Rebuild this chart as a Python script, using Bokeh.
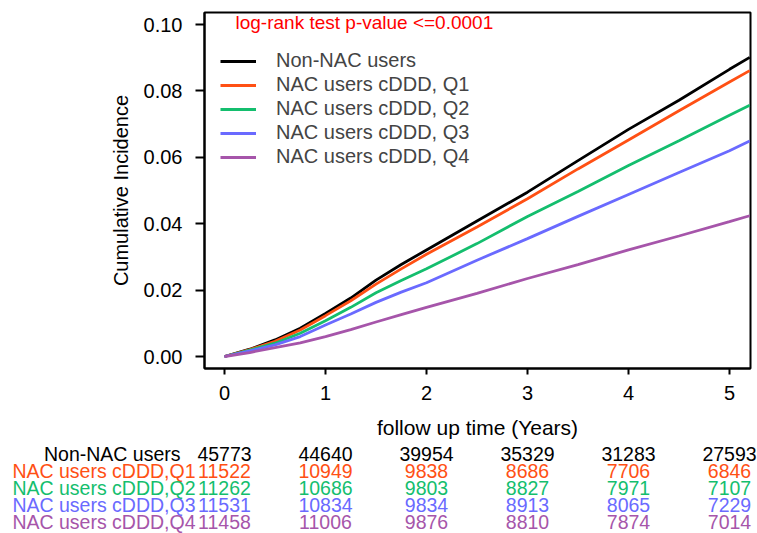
from bokeh.plotting import figure
from bokeh.models import Range1d, FixedTicker, Label, Legend, LegendItem, NumeralTickFormatter
from bokeh.layouts import column
from bokeh.embed import file_html
from bokeh.resources import INLINE
from bokeh.core.properties import value

# ---------------- data ----------------
times = [0, 0.25, 0.5, 0.75, 1.0, 1.25, 1.5, 1.75, 2.0, 2.5, 3.0, 3.5, 4.0, 4.5, 5.0, 5.2]
ci_non_nac = [0, 0.0022, 0.0050, 0.0085, 0.0130, 0.0176, 0.0230, 0.0277, 0.0321, 0.0408, 0.0495, 0.0590, 0.0684, 0.0772, 0.0865, 0.0901]
ci_q1 = [0, 0.0021, 0.0046, 0.0080, 0.0123, 0.0168, 0.0218, 0.0264, 0.0308, 0.0390, 0.0475, 0.0565, 0.0652, 0.0740, 0.0827, 0.0861]
ci_q2 = [0, 0.0019, 0.0040, 0.0070, 0.0108, 0.0148, 0.0192, 0.0229, 0.0264, 0.0340, 0.0422, 0.0497, 0.0575, 0.0650, 0.0727, 0.0757]
ci_q3 = [0, 0.0017, 0.0035, 0.0060, 0.0095, 0.0128, 0.0163, 0.0194, 0.0222, 0.0290, 0.0355, 0.0422, 0.0488, 0.0554, 0.0620, 0.0649]
ci_q4 = [0, 0.0012, 0.0027, 0.0041, 0.0060, 0.0081, 0.0104, 0.0126, 0.0148, 0.0190, 0.0235, 0.0277, 0.0321, 0.0363, 0.0406, 0.0424]

legend_labels = ["Non-NAC users", "NAC users cDDD, Q1", "NAC users cDDD, Q2",
                 "NAC users cDDD, Q3", "NAC users cDDD, Q4"]
table_labels = ["Non-NAC users", "NAC users cDDD,Q1", "NAC users cDDD,Q2",
                "NAC users cDDD,Q3", "NAC users cDDD,Q4"]
colors = ["#000000", "#FF5014", "#14BE6E", "#6A6AFF", "#A655AA"]

risk_times = [0, 1, 2, 3, 4, 5]
risk_non_nac = [45773, 44640, 39954, 35329, 31283, 27593]
risk_q1 = [11522, 10949, 9838, 8686, 7706, 6846]
risk_q2 = [11262, 10686, 9803, 8827, 7971, 7107]
risk_q3 = [11531, 10834, 9834, 8913, 8065, 7229]
risk_q4 = [11458, 11006, 9876, 8810, 7874, 7014]

x_ticks = [0, 1, 2, 3, 4, 5]
y_ticks = [0.0, 0.02, 0.04, 0.06, 0.08, 0.10]
pvalue_text = "log-rank test p-value <=0.0001"
x_title = "follow up time (Years)"
y_title = "Cumulative Incidence"

FONT = "Liberation Sans"

# ---------------- layout constants (pixels) ----------------
PX_X = 101.0      # pixels per year
PX_Y = 3320.0     # pixels per unit of incidence
X0 = 224.0        # page x of t = 0
Y0 = 356.0        # page y of incidence 0
FL, FR, FT, FB = 204, 750, 12, 368   # frame edges
W = 757
H1 = 412          # main plot height (frame + tick labels)
H2 = 533 - H1     # x title + risk table


def dx(px):
    return (px - X0) / PX_X


def dy(py):
    return (Y0 - py) / PX_Y


p = figure(width=W, height=H1, output_backend="svg", toolbar_location=None,
           x_range=Range1d(dx(FL), dx(FR)), y_range=Range1d(dy(FB), dy(FT)),
           min_border_left=FL, min_border_right=W - FR, min_border_top=FT,
           min_border_bottom=H1 - FB)
p.grid.visible = False
p.outline_line_color = "black"
p.outline_line_width = 2
p.background_fill_color = "white"
p.border_fill_color = "white"

series = [ci_non_nac, ci_q1, ci_q2, ci_q3, ci_q4]
renderers = []
for vals, col in zip(series, colors):
    renderers.append(p.line(times, vals, line_color=col, line_width=2.8))

for ax in (p.xaxis[0], p.yaxis[0]):
    ax.axis_line_color = "black"
    ax.axis_line_width = 2
    ax.major_tick_line_width = 2
    ax.major_tick_in = 0
    ax.minor_tick_line_color = None
    ax.major_label_text_font = FONT
    ax.major_label_text_font_size = "20px"
    ax.major_label_text_color = "black"
    ax.axis_label_text_font = FONT
    ax.axis_label_text_font_style = "normal"
    ax.axis_label_text_color = "black"

p.xaxis.ticker = FixedTicker(ticks=x_ticks)
p.xaxis.major_tick_out = 6
p.xaxis.major_label_standoff = 11

p.yaxis.ticker = FixedTicker(ticks=y_ticks)
p.yaxis.formatter = NumeralTickFormatter(format="0.00")
p.yaxis.major_tick_out = 9
p.yaxis.major_label_standoff = 13
p.yaxis.axis_label = y_title
p.yaxis.axis_label_text_font_size = "20px"
p.yaxis.axis_label_standoff = 9

legend = Legend(items=[LegendItem(label=lab, renderers=[r]) for lab, r in zip(legend_labels, renderers)],
                location=(16, 200), padding=0, margin=0, spacing=1,
                glyph_width=36, glyph_height=20, label_height=20, label_standoff=20,
                label_text_font=FONT, label_text_font_size="20px",
                border_line_color=None, background_fill_alpha=0)
p.add_layout(legend)

p.add_layout(Label(x=dx(235), y=dy(22), text=pvalue_text, text_color="#FF0000",
                   text_font=FONT, text_font_size="19px",
                   text_align="left", text_baseline="middle"))

# ---------------- x title + risk table (full-width panel) ----------------
TITLE_Y = 427.0 - H1
ROW1_Y, ROW_DY = 453.5 - H1, 17.0


def ry(py_panel):
    # map a panel pixel y to row-units where row k sits at ROW1_Y + (k-1)*ROW_DY
    return 1 + (py_panel - ROW1_Y) / ROW_DY


t = figure(width=W, height=H2, output_backend="svg", toolbar_location=None,
           x_range=Range1d(dx(0), dx(W)),
           y_range=Range1d(ry(H2), ry(0)),
           min_border=0, x_axis_location=None, y_axis_location=None)
t.grid.visible = False
t.outline_line_color = None
t.background_fill_color = "white"
t.border_fill_color = "white"
for fig in (p, t):
    try:
        fig.frame_align = False
    except Exception:
        pass

t.text(x=[dx((FL + FR) / 2)], y=[ry(TITLE_Y)], text=[x_title], text_align="center",
       text_baseline="middle", text_color="black", text_font=value(FONT),
       text_font_size="21px")

risk_rows = [risk_non_nac, risk_q1, risk_q2, risk_q3, risk_q4]
for i, (lab, row, col) in enumerate(zip(table_labels, risk_rows, colors)):
    yy = i + 1
    t.text(x=risk_times, y=[yy] * len(risk_times), text=[str(v) for v in row],
           text_align="center", text_baseline="middle", text_color=col,
           text_font=value(FONT), text_font_size="19.5px")
    right_edge = 180 if i == 0 else 195
    t.text(x=[dx(right_edge)], y=[yy], text=[lab], text_align="right",
           text_baseline="middle", text_color=col,
           text_font=value(FONT), text_font_size="19.5px")

layout = column(p, t, spacing=0)
open("out.html", "w").write(file_html(layout, INLINE))
